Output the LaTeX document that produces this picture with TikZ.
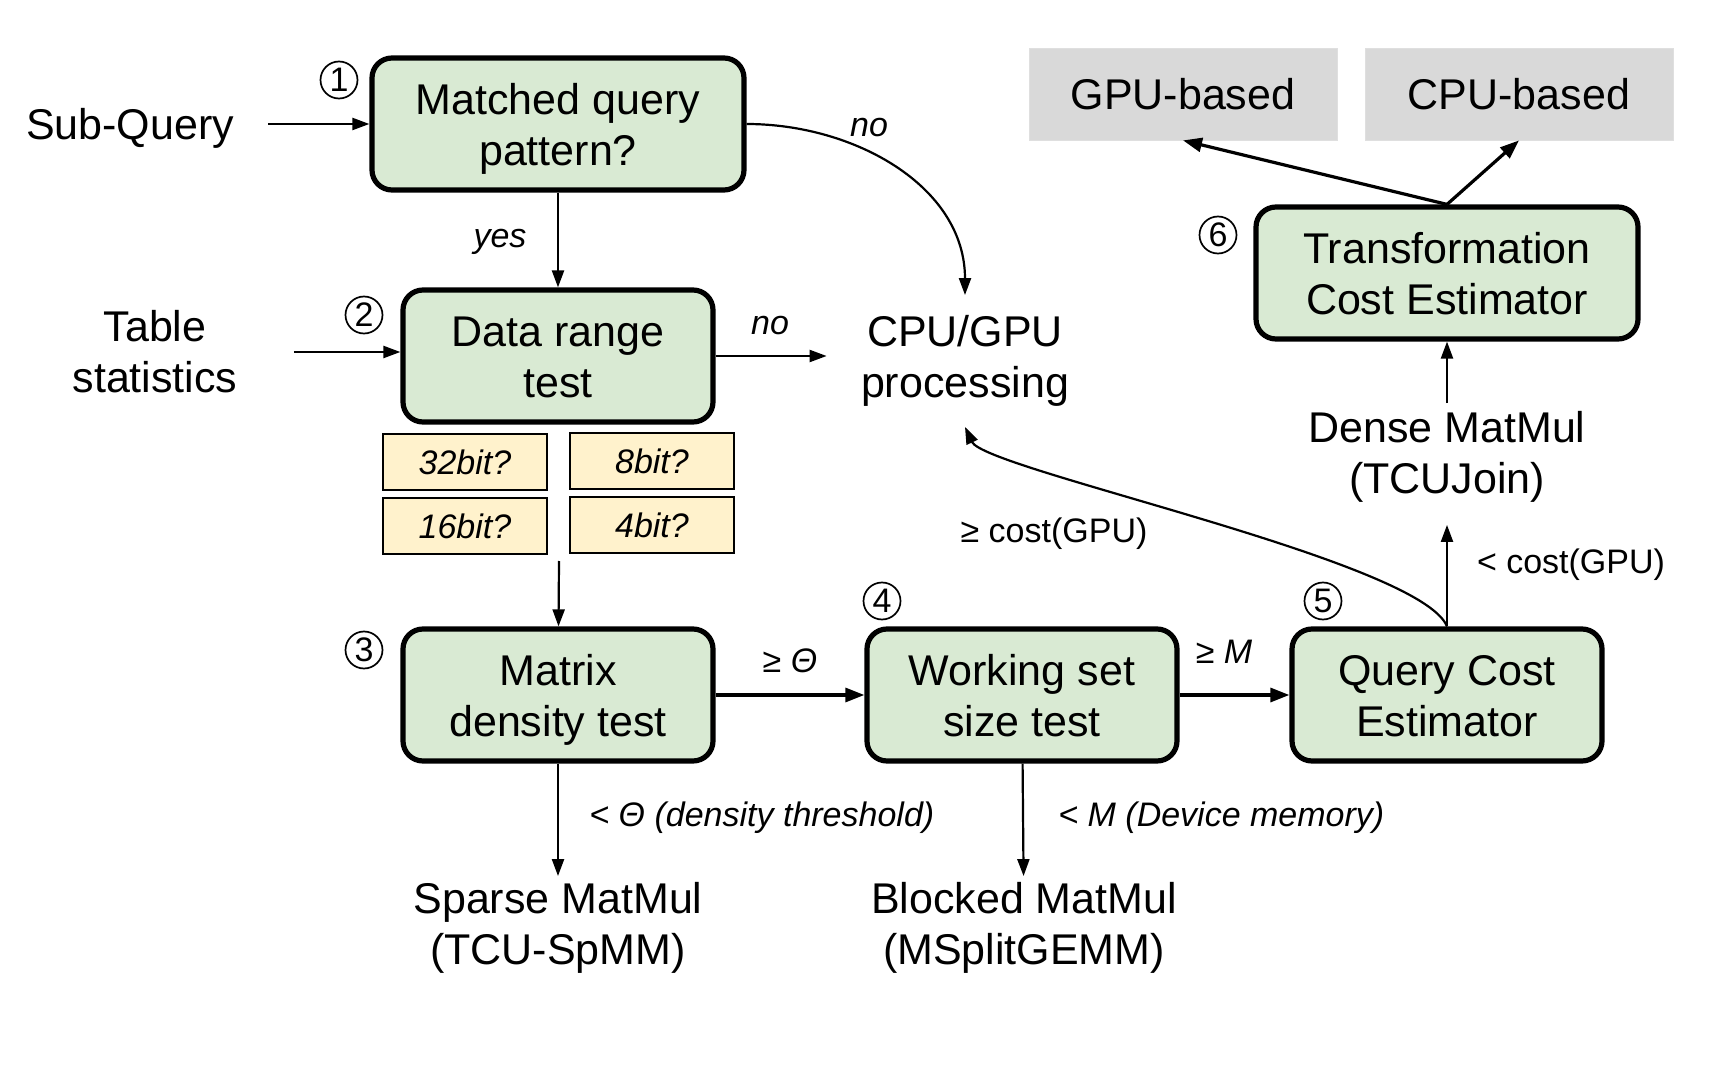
\documentclass[tikz,border=0pt]{standalone}
\usepackage{fontspec}
\setmainfont{Liberation Sans}
\usetikzlibrary{positioning, arrows.meta}
\definecolor{testgreen}{HTML}{D9EAD3}
\definecolor{bityellow}{HTML}{FFF2CC}
\definecolor{optgray}{HTML}{D9D9D9}
\newcommand{\mainsize}{\fontsize{21.5}{25.5}\selectfont}
\newcommand{\labsize}{\fontsize{17}{20}\selectfont}
\tikzset{
>={Triangle[length=8.5pt,width=6pt]}, % filled arrow heads
flow/.style={->, line width=1.1pt}, % plain connector
bigflow/.style={->, line width=1.6pt, >={Triangle[length=9.5pt,width=7pt]}}, % heavier connector
test/.style={draw, line width=2.6pt, rounded corners=10pt, fill=testgreen, align=center, font=\mainsize, minimum width=155pt, minimum height=66pt, text height=46pt, text depth=4.5pt}, % decision boxes
bitbox/.style={draw, line width=1.2pt, fill=bityellow, font=\labsize\itshape, minimum width=82pt, minimum height=28pt}, % bit width checks
target/.style={fill=optgray, draw=gray!25, font=\mainsize, minimum width=154pt, minimum height=46pt}, % final choices
plain/.style={font=\mainsize, align=center, inner sep=0pt}, % free text
lab/.style={font=\labsize, inner sep=1pt}, % edge labels
stepno/.style={draw, circle, line width=0.85pt, minimum size=18.5pt, inner sep=0pt, font=\fontsize{17}{17}\selectfont}, % circled numbers
}
\begin{document}
\begin{tikzpicture}[x=0.5pt, y={(0pt,-0.5pt)}]
\useasboundingbox (0,0) rectangle (1725,1075);

% decision boxes
\node[test, minimum width=186pt] (match) at (558,124) {Matched query\\pattern?};
\node[test] (range) at (558,356) {Data range\\test};
\node[test] (density) at (558,695) {Matrix\\density test};
\node[test] (wset) at (1022,695) {Working set\\size test};
\node[test] (qcost) at (1447,695) {Query Cost\\Estimator};
\node[test, minimum width=191pt] (tcost) at (1447,273) {Transformation\\Cost Estimator};

% bit widths under the range test
\node[bitbox] (b32) at (465,462) {32bit?};
\node[bitbox] (b8) at (652,461) {8bit?};
\node[bitbox] (b16) at (465,526) {16bit?};
\node[bitbox] (b4) at (652,525) {4bit?};
\coordinate (bits) at (559,561);

% GPU / CPU targets
\node[target] (gpu) at (1183,94) {GPU-based};
\node[target] (cpu) at (1519,94) {CPU-based};

% free text
\node[plain] (subq) at (130,128) {Sub-Query};
\node[plain] (tstat) at (155,352) {Table\\statistics};
\node[plain, inner xsep=17pt, inner ysep=10pt] (cpugpu) at (965,361) {CPU/GPU\\processing};
\node[plain, inner sep=4pt] (dense) at (1447,457) {Dense MatMul\\(TCUJoin)};
\node[plain, inner sep=3pt] (sparse) at (558,928) {Sparse MatMul\\(TCU-SpMM)};
\node[plain, inner sep=3pt] (blocked) at (1024,928) {Blocked MatMul\\(MSplitGEMM)};

% step numbers
\node[stepno] (n1) at (339,80) {1};
\node[stepno] (n2) at (364,315) {2};
\node[stepno] (n3) at (364,650) {3};
\node[stepno] (n4) at (882,601) {4};
\node[stepno] (n5) at (1323,601) {5};
\node[stepno] (n6) at (1218,235) {6};

% connectors
\draw[flow, shorten <=17pt] (subq.east |- match.west) -- (match.west);
\draw[flow, shorten <=28pt] (tstat.east) -- (tstat.east -| range.west);
\draw[flow] (match) -- (range);
\draw[flow] (match.east) to[out=0, in=90] (cpugpu.north);
\draw[flow] (range.east) -- (range.east -| cpugpu.west);
\draw[flow] (bits) -- (density);
\draw[bigflow] (density) -- (wset);
\draw[bigflow] (wset) -- (qcost);
\draw[flow] (density) -- (sparse);
\draw[flow] (wset) -- (blocked);
\draw[flow] (qcost.north) .. controls (1420,560) and (985,470) .. (cpugpu.south);
\draw[flow, shorten >=7pt] (qcost.north) -- (dense);
\draw[flow] (dense) -- (tcost);
\draw[bigflow] (tcost.north) -- (gpu.south);
\draw[bigflow] (tcost.north) -- (cpu.south);

% edge labels
\node[lab, font=\labsize\itshape] (lyes) at (500,242) {yes};
\node[lab, font=\labsize\itshape] (lno1) at (869,128) {no};
\node[lab, font=\labsize\itshape] (lno2) at (770,326) {no};
\node[lab] (ltheta) at (790,661) {≥ \textit{Θ}};
\node[lab] (lmem) at (1224,652) {≥ \textit{M}};
\node[lab] (lgeq) at (1054,534) {≥ cost(GPU)};
\node[lab] (lless) at (1571,565) {< cost(GPU)};
\node[lab, font=\labsize\itshape, anchor=west] (ldens) at (587,818) {< Θ (density threshold)};
\node[lab, font=\labsize\itshape, anchor=west] (ldev) at (1056,818) {< M (Device memory)};
\end{tikzpicture}
\end{document}
